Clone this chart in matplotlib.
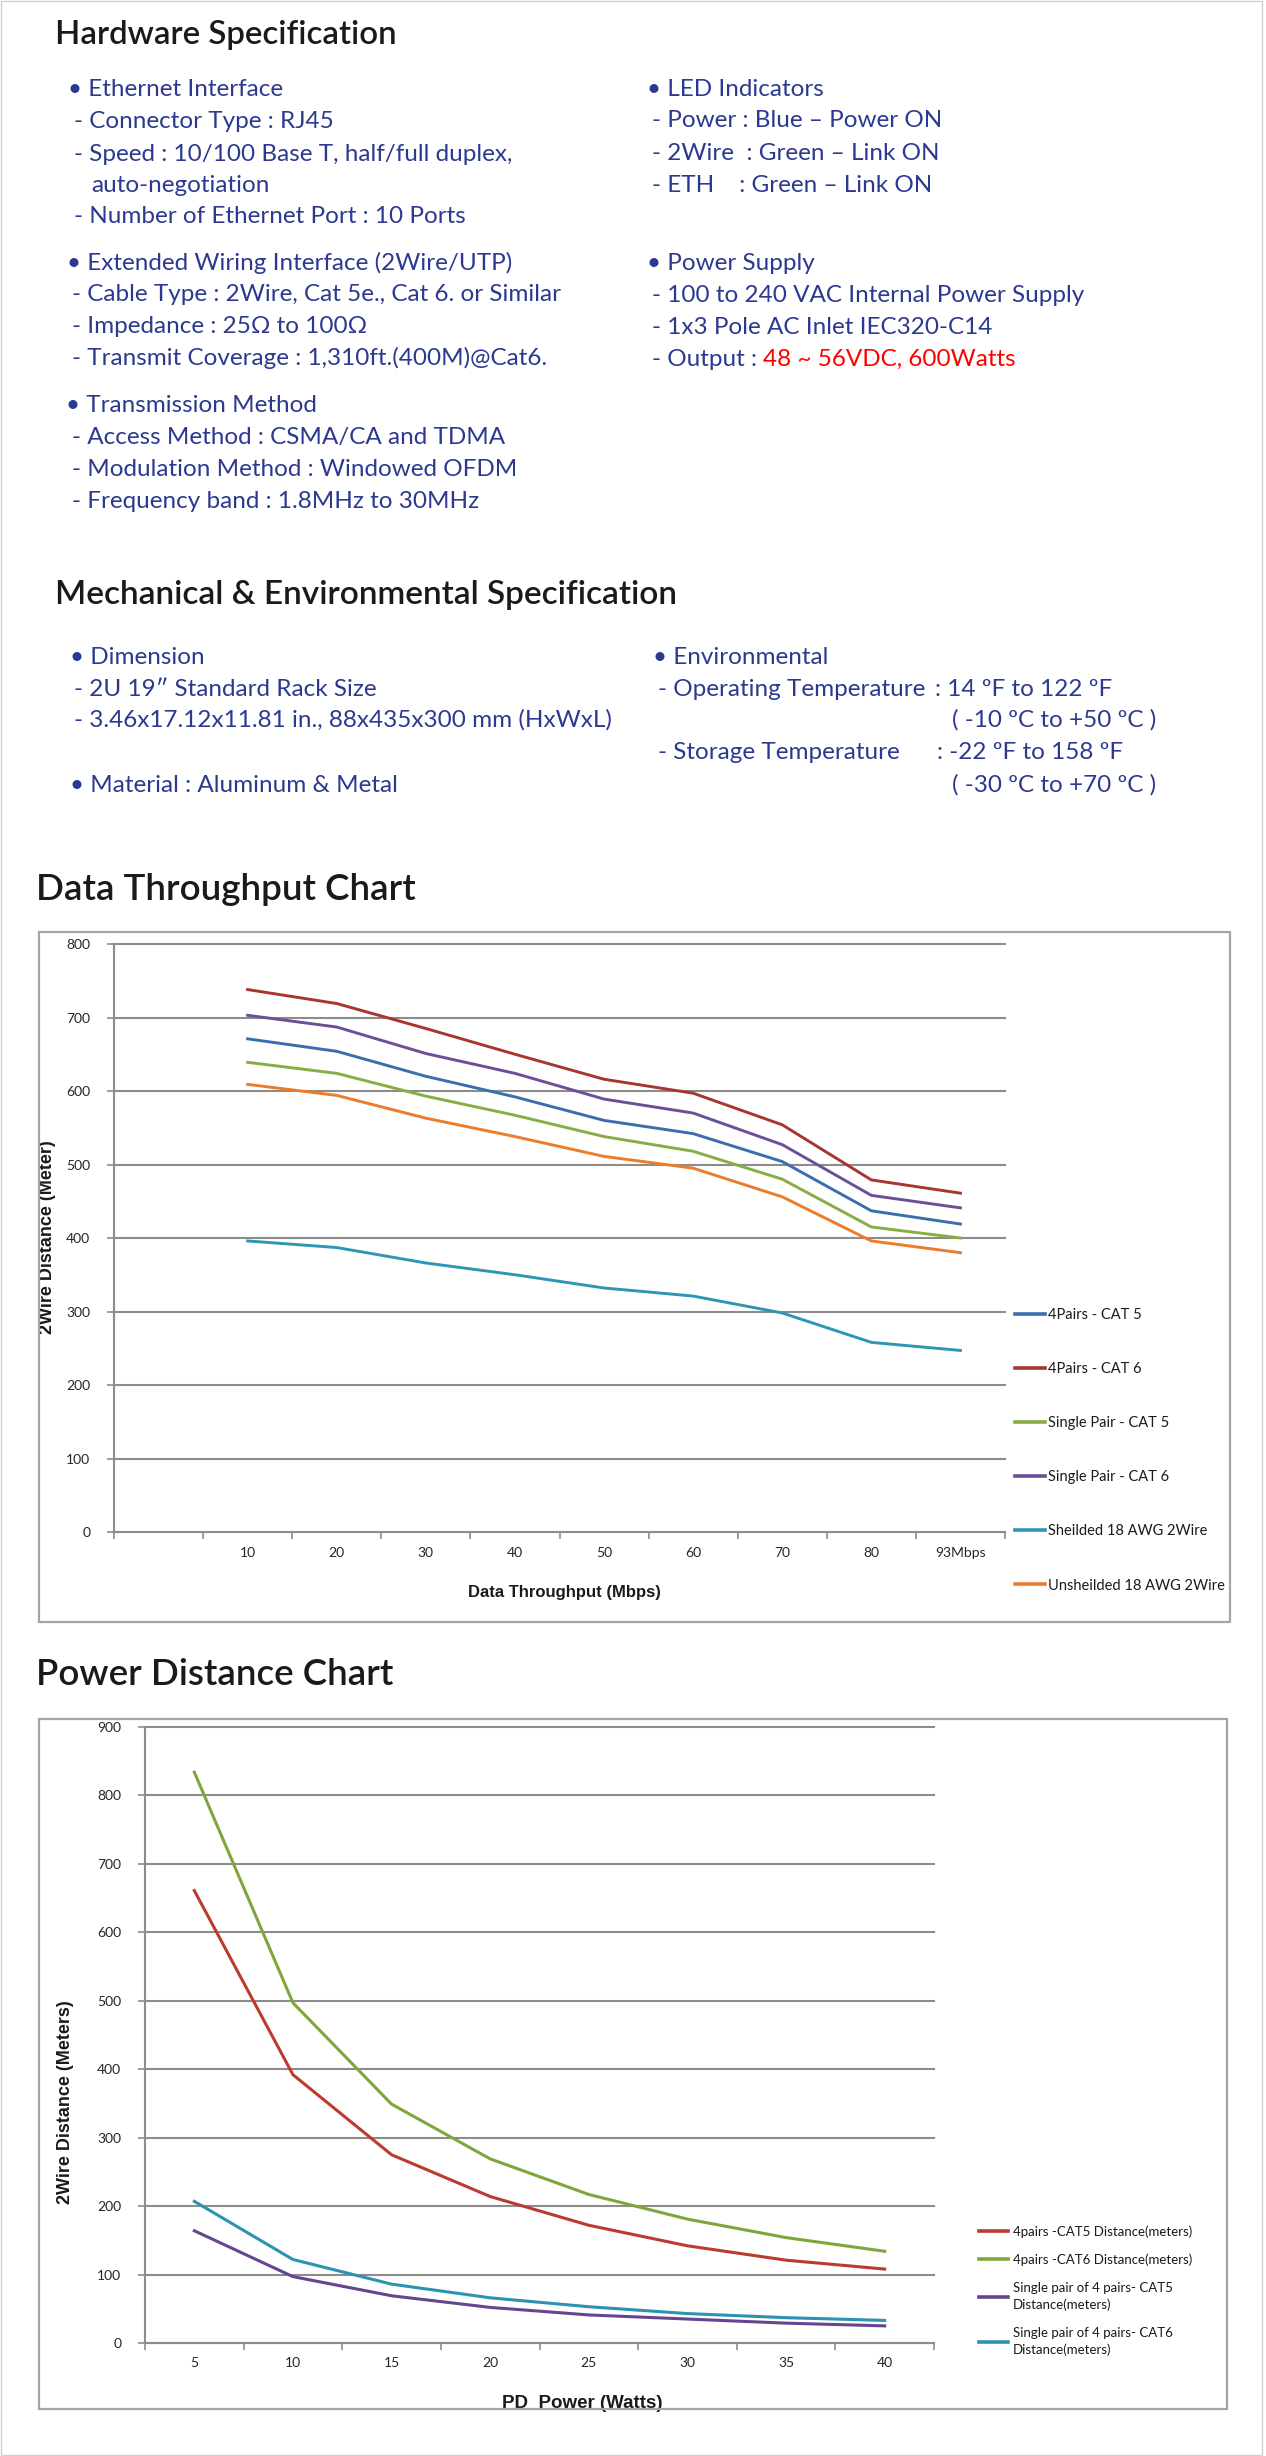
import numpy as np
import matplotlib
matplotlib.use('Agg')
import matplotlib.pyplot as plt
from matplotlib.patches import Rectangle

# ---- data : throughput chart ----
tp_labels = ['', '10', '20', '30', '40', '50', '60', '70', '80', '93Mbps']
tp_cat5_4pairs = [671, 654, 620, 592, 560, 542, 504, 437, 419]
tp_cat6_4pairs = [738, 719, 685, 650, 616, 597, 554, 479, 461]
tp_single_cat5 = [639, 624, 593, 567, 538, 518, 480, 415, 400]
tp_single_cat6 = [703, 687, 651, 624, 589, 570, 527, 458, 441]
tp_shielded = [396, 387, 366, 350, 332, 321, 298, 258, 247]
tp_unshielded = [609, 594, 563, 538, 511, 495, 456, 396, 380]
tp_names = ['4Pairs - CAT 5', '4Pairs - CAT 6', 'Single Pair - CAT 5',
            'Single Pair - CAT 6', 'Sheilded 18 AWG 2Wire', 'Unsheilded 18 AWG 2Wire']

# ---- data : power distance chart ----
pd_labels = ['5', '10', '15', '20', '25', '30', '35', '40']
pd_cat5_4pairs = [661, 392, 275, 214, 172, 142, 121, 108]
pd_cat6_4pairs = [834, 497, 349, 269, 217, 181, 154, 134]
pd_single_cat5 = [164, 97, 69, 52, 41, 35, 29, 25]
pd_single_cat6 = [207, 122, 86, 66, 53, 43, 37, 33]
pd_names = ['4pairs -CAT5 Distance(meters)', '4pairs -CAT6 Distance(meters)',
            'Single pair of 4 pairs- CAT5\nDistance(meters)',
            'Single pair of 4 pairs- CAT6\nDistance(meters)']

# ---- spec text ----
hw_left = [
    (87, 68, '\u2022 Ethernet Interface'),
    (119, 74, '- Connector Type : RJ45'),
    (152, 74, '- Speed : 10/100 Base T, half/full duplex,'),
    (183, 91, 'auto-negotiation'),
    (214, 74, '- Number of Ethernet Port : 10 Ports'),
    (261, 67, '\u2022 Extended Wiring Interface (2Wire/UTP)'),
    (292, 72, '- Cable Type : 2Wire, Cat 5e., Cat 6. or Similar'),
    (324, 72, '- Impedance : 25\u03a9 to 100\u03a9'),
    (356, 72, '- Transmit Coverage : 1,310ft.(400M)@Cat6.'),
    (403, 66, '\u2022 Transmission Method'),
    (435, 72, '- Access Method : CSMA/CA and TDMA'),
    (467, 72, '- Modulation Method : Windowed OFDM'),
    (499, 72, '- Frequency band : 1.8MHz to 30MHz'),
]
hw_right = [
    (87, 647, '\u2022 LED Indicators'),
    (118, 652, '- Power : Blue \u2013 Power ON'),
    (151, 652, '- 2Wire  : Green \u2013 Link ON'),
    (183, 652, '- ETH    : Green \u2013 Link ON'),
    (261, 647, '\u2022 Power Supply'),
    (293, 652, '- 100 to 240 VAC Internal Power Supply'),
    (325, 652, '- 1x3 Pole AC Inlet IEC320-C14'),
]
mech = [
    (655, 70, '\u2022 Dimension'),
    (687, 74, '- 2U 19\u2033 Standard Rack Size'),
    (718, 74, '- 3.46x17.12x11.81 in., 88x435x300 mm (HxWxL)'),
    (783, 70, '\u2022 Material : Aluminum & Metal'),
    (655, 653, '\u2022 Environmental'),
    (687, 658, '- Operating Temperature'),
    (687, 935, ': 14 \u00baF to 122 \u00baF'),
    (718, 952, '( -10 \u00baC to +50 \u00baC )'),
    (750, 658, '- Storage Temperature'),
    (750, 937, ': -22 \u00baF to 158 \u00baF'),
    (783, 952, '( -30 \u00baC to +70 \u00baC )'),
]

W, H = 1266, 2456
NAVY = '#2B3990'
TITLE = '#1A1A1A'
GRID = '#8C8C8C'
BODY = ['Lato', 'DejaVu Sans']
CHART = ['Lato', 'DejaVu Sans']
BOLD = ['Liberation Sans', 'DejaVu Sans']

fig = plt.figure(figsize=(W / 100, H / 100), dpi=100)
fig.patch.set_facecolor('white')


def fx(x):
    return x / W


def fy(y):
    return 1 - y / H


def put(x, y, s, size=17.5, color=NAVY, cap=18, weight='normal'):
    # y is the middle of the capitals, in pixels from the top
    return fig.text(fx(x), fy(y + cap / 2), s, fontsize=size, color=color,
                    family=BODY, va='baseline', ha='left', fontweight=weight)


# page frame
fig.patches.append(Rectangle((0.0005, 0.0005), 0.996, 0.999, transform=fig.transFigure,
                             fill=False, ec='#D0D0D0', lw=1))

# titles
put(55, 33, 'Hardware Specification', size=23.8, color=TITLE, cap=23, weight='semibold')
put(55, 592, 'Mechanical & Environmental Specification', size=24, color=TITLE, cap=23, weight='semibold')
put(36, 888, 'Data Throughput Chart', size=26.5, color=TITLE, cap=24, weight='semibold')
put(36, 1673, 'Power Distance Chart', size=26.5, color=TITLE, cap=24, weight='semibold')

for y, x, s in hw_left + hw_right + mech:
    put(x, y, s)

t = put(652, 357, '- Output : ')
r = fig.canvas.get_renderer()
bb = t.get_window_extent(r)
fig.text(bb.x1 / W, fy(357 + 9), '48 ~ 56VDC, 600Watts', fontsize=17.5, color='#FF0000',
         family=BODY, va='baseline', ha='left')


def style_axes(ax, n, ymax, pad):
    ax.set_xlim(-0.5, n - 0.5)
    ax.set_ylim(0, ymax)
    ax.set_yticks(range(0, ymax + 1, 100))
    ax.set_xticks(np.arange(n))
    ax.set_xticks(np.arange(n + 1) - 0.5, minor=True)
    ax.tick_params(axis='x', which='major', length=0, pad=pad, labelsize=10, labelcolor='#262626')
    ax.tick_params(axis='x', which='minor', length=5, width=1.2, color=GRID, direction='out')
    ax.tick_params(axis='y', length=5, width=1.2, color=GRID, labelsize=10,
                   labelcolor='#262626', pad=12)
    for lab in ax.get_xticklabels() + ax.get_yticklabels():
        lab.set_family(CHART)
    ax.grid(axis='y', color=GRID, lw=1.5)
    for gl in ax.get_ygridlines():
        gl.set_clip_on(False)
    ax.set_axisbelow(True)
    for side in ['top', 'right']:
        ax.spines[side].set_visible(False)
    for side in ['left', 'bottom']:
        ax.spines[side].set_color(GRID)
        ax.spines[side].set_linewidth(1.5)


# ---------------- Data Throughput Chart ----------------
fig.patches.append(Rectangle((fx(39), fy(1622)), (1230 - 39) / W, (1622 - 932) / H,
                             transform=fig.transFigure, fill=False, ec='#A5A5A5', lw=1.6))
ax1 = fig.add_axes([fx(114), fy(1532), (1005 - 114) / W, (1532 - 944) / H])
x1 = np.arange(len(tp_labels))
tp_series = [tp_cat5_4pairs, tp_cat6_4pairs, tp_single_cat5, tp_single_cat6, tp_shielded, tp_unshielded]
tp_colors = ['#3A6EAD', '#A8352F', '#88AD45', '#6C4F96', '#2E96B3', '#EC7B2C']
for vals, name, col in zip(tp_series, tp_names, tp_colors):
    ax1.plot(x1[1:], vals, color=col, lw=2.1, label=name, solid_joinstyle='round')
style_axes(ax1, len(tp_labels), 800, 11)
ax1.set_xticklabels(tp_labels)
ax1.set_xlabel('Data Throughput (Mbps)', fontsize=12, fontweight='bold', family=BOLD, color='#1A1A1A')
ax1.xaxis.set_label_coords((564 - 114) / 891, (1532 - 1585) / 588)
ax1.set_ylabel('2Wire Distance (Meter)', fontsize=13, fontweight='bold', family=BOLD, color='#1A1A1A')
ax1.yaxis.set_label_coords((56 - 114) / 891, (1532 - 1237) / 588)
leg1 = ax1.legend(loc='upper left', bbox_to_anchor=(fx(1015), fy(1308)), bbox_transform=fig.transFigure,
                  frameon=False, handlelength=2.05, handletextpad=0.2,
                  labelspacing=2.75, borderpad=0, borderaxespad=0, prop={'family': CHART, 'size': 10.5})

# ---------------- Power Distance Chart ----------------
fig.patches.append(Rectangle((fx(39), fy(2409)), (1227 - 39) / W, (2409 - 1719) / H,
                             transform=fig.transFigure, fill=False, ec='#A5A5A5', lw=1.6))
ax2 = fig.add_axes([fx(145), fy(2343), (934 - 145) / W, (2343 - 1727) / H])
x2 = np.arange(len(pd_labels))
pd_series = [pd_cat5_4pairs, pd_cat6_4pairs, pd_single_cat5, pd_single_cat6]
pd_colors = ['#BD3A2E', '#7FA63B', '#66458F', '#2D93B0']
for vals, name, col in zip(pd_series, pd_names, pd_colors):
    ax2.plot(x2, vals, color=col, lw=2.2, label=name, solid_joinstyle='round')
style_axes(ax2, len(pd_labels), 900, 10)
ax2.set_xticklabels(pd_labels)
ax2.set_xlabel('PD  Power (Watts)', fontsize=13.5, fontweight='bold', family=BOLD, color='#1A1A1A')
ax2.xaxis.set_label_coords((582 - 145) / 789, (2343 - 2395) / 616)
ax2.set_ylabel('2Wire Distance (Meters)', fontsize=13, fontweight='bold', family=BOLD, color='#1A1A1A')
ax2.yaxis.set_label_coords((74 - 145) / 789, (2343 - 2102) / 616)
leg2 = ax2.legend(loc='upper left', bbox_to_anchor=(fx(979), fy(2225)), bbox_transform=fig.transFigure,
                  frameon=False, handlelength=2.2, handletextpad=0.35,
                  labelspacing=1.2, borderpad=0, borderaxespad=0, prop={'family': CHART, 'size': 9.5})

for leg in (leg1, leg2):
    for txt in leg.get_texts():
        txt.set_color('#1A1A1A')
        txt.set_linespacing(1.45)
    for ln in leg.get_lines():
        ln.set_linewidth(2.6)

fig.savefig('out.png', dpi=100, facecolor='white')
